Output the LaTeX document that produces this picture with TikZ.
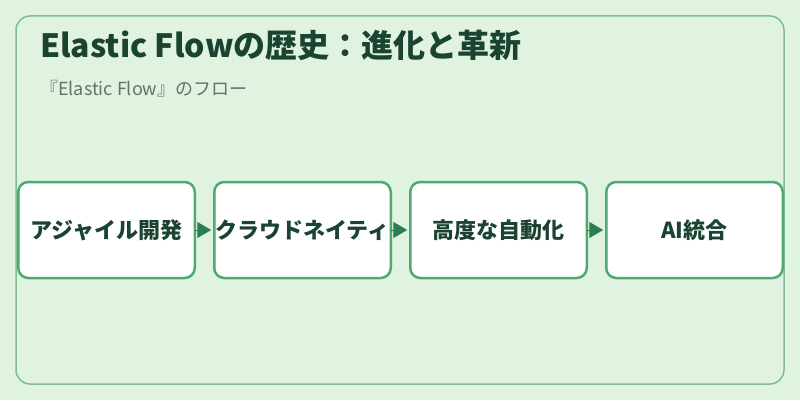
\documentclass[tikz,border=0pt]{standalone}
\usepackage{fontspec}
\setmainfont{Noto Sans CJK JP}
\usepackage{xcolor}
\usepackage{tikz}
\usetikzlibrary{arrows.meta, positioning}
\definecolor{paleleaf}{RGB}{224, 242, 224}
\definecolor{frameleaf}{RGB}{126, 190, 146}
\definecolor{boxleaf}{RGB}{78, 170, 112}
\definecolor{arrowleaf}{RGB}{46, 125, 80}
\definecolor{deepleaf}{RGB}{27, 67, 50}
\definecolor{mossgray}{RGB}{98, 116, 104}
\tikzset{
  stagebox/.style={draw=boxleaf, line width=2.5pt, outer sep=0pt, inner xsep=0pt, fill=white, rounded corners=10pt, minimum width=176.5pt, minimum height=96pt, align=center, text=deepleaf, font=\fontsize{22pt}{26pt}\selectfont\bfseries},
  flowarrow/.style={-{Triangle[length=14pt, width=16pt]}, color=arrowleaf, line width=1pt, shorten >=3pt}
}
\begin{document}
\begin{tikzpicture}[x=1pt, y=1pt]
\useasboundingbox (0,0) rectangle (800,400);
\fill[paleleaf] (0,0) rectangle (800,400);
\draw[frameleaf, line width=1.5pt, rounded corners=14pt] (16,16) rectangle (784,384);
\node[anchor=base west, text=deepleaf, font=\fontsize{32pt}{37pt}\selectfont\bfseries, inner sep=0pt] (title) at (40,343) {Elastic Flowの歴史：進化と革新};
\node[anchor=base west, text=mossgray, font=\fontsize{18pt}{21pt}\selectfont, inner sep=0pt] (subtitle) at (40,305) {『Elastic Flow』のフロー};
\node[stagebox] (agile) at (106.5,170) {アジャイル開発};
\node[stagebox, right=19.5pt of agile] (cloud) {クラウドネイティ};
\node[stagebox, right=19.5pt of cloud] (automation) {高度な自動化};
\node[stagebox, right=19.5pt of automation] (ai) {AI統合};
\draw[flowarrow] (agile.east) -- (cloud.west);
\draw[flowarrow] (cloud.east) -- (automation.west);
\draw[flowarrow] (automation.east) -- (ai.west);
\end{tikzpicture}
\end{document}
